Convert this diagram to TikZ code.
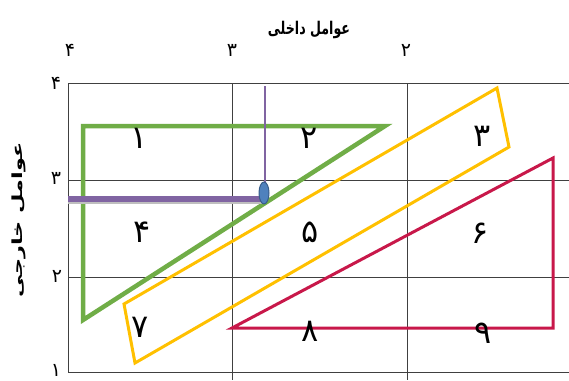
\documentclass[tikz,border=0pt]{standalone}
\usepackage{fontspec}
\TeXXeTstate=1
\newfontfamily\arabicfont[Script=Arabic]{DejaVu Sans}
\usetikzlibrary{positioning,shapes.geometric}
\definecolor{FactGreen}{HTML}{70AD47}
\definecolor{FactYellow}{HTML}{FFC000}
\definecolor{FactRed}{HTML}{C8184A}
\definecolor{FactPurple}{HTML}{8064A2}
\definecolor{FactBlue}{HTML}{4F81BD}
\definecolor{FactBlueDark}{HTML}{385D8A}

\begin{document}
\begin{tikzpicture}[
  x=1pt,y=-1pt,
  gridline/.style={draw=black!75,line width=0.8pt},
  cell/.style={font=\arabicfont\fontsize{32}{36}\selectfont,inner sep=0pt},
  tick/.style={font=\arabicfont\fontsize{19}{22}\selectfont,inner sep=0pt},
  axis/.style={font=\arabicfont\bfseries\fontsize{14}{16}\selectfont,inner sep=0pt},
  zone/.style={line width=#1,line join=miter}
]
\useasboundingbox (0,0) rectangle (569,380);

% grid
\foreach \y in {83,180,277,372} \draw[gridline] (68,\y) -- (569,\y);
\draw[gridline] (68,83) -- (68,372);
\foreach \x in {232,407} \draw[gridline] (\x,83) -- (\x,380);

% axes
\node[axis] (inner) at (309,30) {\scalebox{0.9}[1.25]{\beginR عوامل داخلی\endR}};
\node[axis,rotate=90] (outer) at (19,220) {\scalebox{1.6}[1]{\beginR عوامل خارجی\endR}};
\node[tick] (t4) at (70,50) {۴};
\node[tick] (t3) at (232,50) {۳};
\node[tick] (t2) at (406,50) {۲};
\node[tick] (s4) at (56,83) {۴};
\node[tick] (s3) at (56,178) {۳};
\node[tick] (s2) at (57,276) {۲};
\node[tick] (s1) at (56,370) {۱};

% zones
\draw[zone=3pt,FactRed] (232,328) -- (553,328) -- (553,158) -- cycle;
\draw[zone=3pt,FactYellow] (124,304) -- (497,88) -- (509,147) -- (135,363) -- cycle;
\draw[zone=4.5pt,FactGreen] (83,320) -- (83,126) -- (385,126) -- cycle;

% cells
\node[cell] (c1) at (139,138) {۱};
\node[cell] (c2) at (309,138) {۲};
\node[cell] (c3) at (482,136) {۳};
\node[cell] (c4) at (142,232) {۴};
\node[cell] (c5) at (310,232) {۵};
\node[cell] (c6) at (480,233) {۶};
\node[cell] (c7) at (140,327) {۷};
\node[cell] (c8) at (310,331) {۸};
\node[cell] (c9) at (483,333) {۹};

% position
\coordinate (ptop) at (265,86);
\coordinate (pleft) at (68,199);
\coordinate (pc) at (264,193);
\draw[FactPurple,line width=2.5pt] (ptop) -- (ptop |- pc);
\draw[black!25,line width=6pt] ([yshift=-1.5pt]pleft) -- ([yshift=-1.5pt]pleft -| pc);
\draw[FactPurple,line width=6pt] (pleft) -- (pleft -| pc);
\node[ellipse,draw=FactBlueDark,line width=1pt,fill=FactBlue,
  minimum width=10pt,minimum height=22pt,inner sep=0pt] (pivot) at (pc) {};
\end{tikzpicture}
\end{document}
